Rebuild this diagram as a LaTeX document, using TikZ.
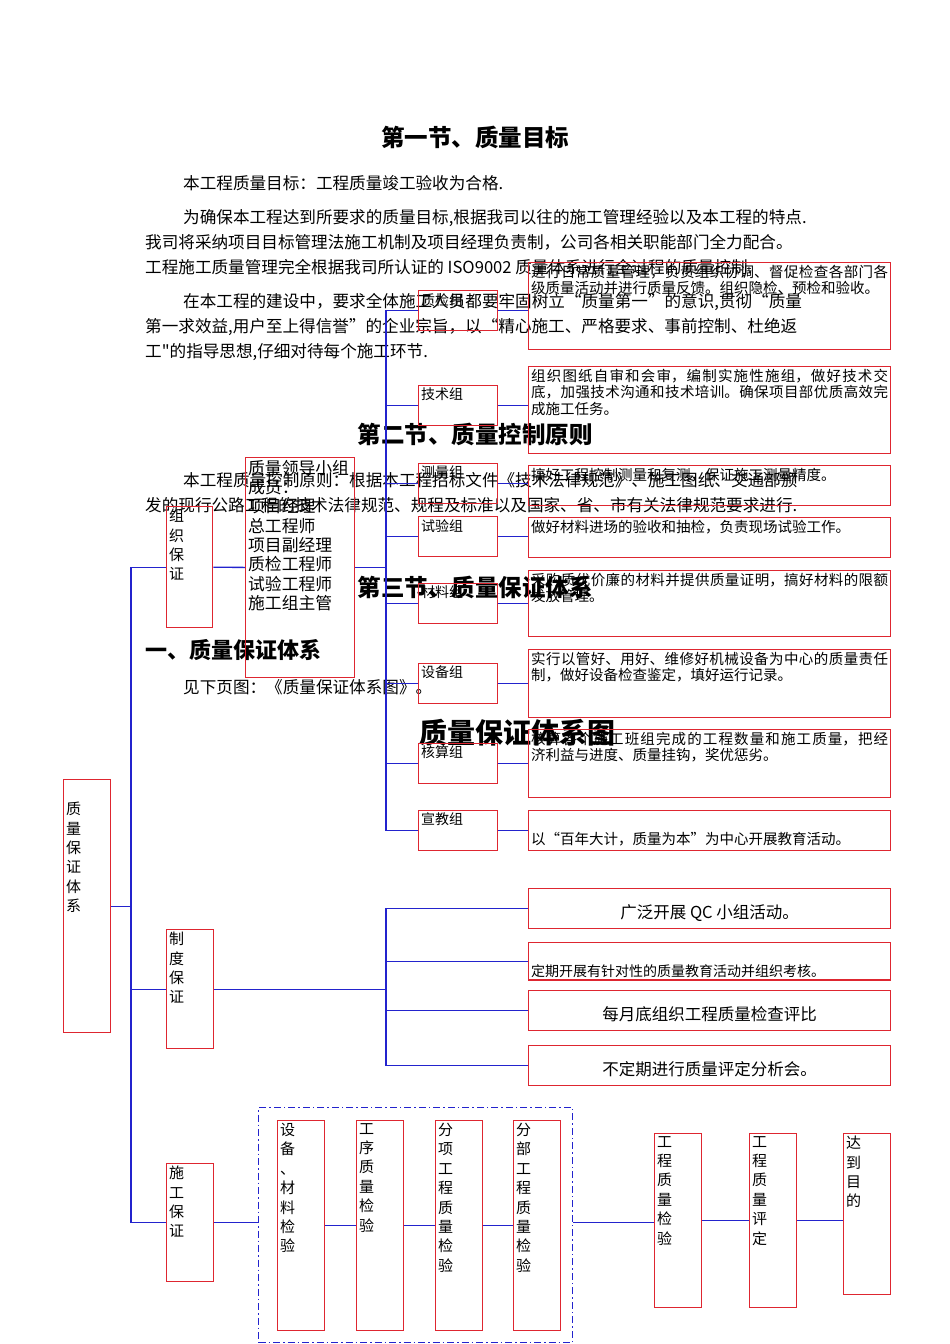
\documentclass[tikz,border=0pt]{standalone}
\usepackage{fontspec}
\setmainfont{Noto Sans CJK SC}
\newfontfamily\plainfont{Noto Sans CJK SC}
\usetikzlibrary{positioning}
\XeTeXlinebreaklocale "zh"
\XeTeXlinebreakskip=0pt plus 1pt
\definecolor{qredline}{RGB}{222,38,48}
\definecolor{qblueline}{RGB}{35,35,205}
\newcommand{\cell}[4]{\parbox[c][#2pt][#3]{#1pt}{#4}}

\begin{document}
\begin{tikzpicture}[x=1pt, y=-1pt,
    box/.style={draw=qredline, line width=1.3pt, inner sep=2.5pt, anchor=north west},
    vbox/.style={box, font=\fontsize{15}{19.4}\selectfont},
    grp/.style={box, font=\fontsize{14}{16}\selectfont},
    desc/.style={box, font=\fontsize{14.5}{16.5}\selectfont},
    rule/.style={box, font=\fontsize{16.5}{19}\selectfont},
    link/.style={draw=qblueline, line width=1.3pt},
    body/.style={anchor=base west, inner sep=0pt, font=\fontsize{16.6}{20}\selectfont},
    head/.style={inner sep=0pt, font=\bfseries\fontsize{23.5}{26}\selectfont}
]
\useasboundingbox (0,0) rectangle (950,1344);

\node[head] (h1) at (475,137) {第一节、质量目标};
\node[body] (t1) at (183,189) {本工程质量目标：工程质量竣工验收为合格.};
\node[body] (t2) at (183,223) {为确保本工程达到所要求的质量目标,根据我司以往的施工管理经验以及本工程的特点.};
\node[body] (t3) at (145,248) {我司将采纳项目目标管理法施工机制及项目经理负责制，公司各相关职能部门全力配合。};
\node[body] (t4) at (145,273) {工程施工质量管理完全根据我司所认证的 ISO9002 质量体系进行全过程的质量控制.};
\node[body] (t5) at (183,307) {在本工程的建设中，要求全体施工人员都要牢固树立“质量第一”的意识,贯彻“质量};
\node[body] (t6) at (145,332) {第一求效益,用户至上得信誉”的企业宗旨，以“精心施工、严格要求、事前控制、杜绝返};
\node[body] (t7) at (145,357) {\plainfont 工"的指导思想,仔细对待每个施工环节.};
\node[head] (h2) at (475,434) {第二节、质量控制原则};
\node[body] (t8) at (183,486) {本工程质量控制原则：根据本工程招标文件《技术法律规范》、施工图纸、交通部颁};
\node[body] (t9) at (145,511) {发的现行公路工程的技术法律规范、规程及标准以及国家、省、市有关法律规范要求进行.};
\node[head] (h3) at (475,587) {第三节、质量保证体系};
\node[head, anchor=west, font=\bfseries\fontsize{22}{24}\selectfont] (h4) at (145,650) {一、质量保证体系};
\node[body] (t10) at (183,693) {见下页图：《质量保证体系图》。};
\node[head, font=\bfseries\fontsize{28}{30}\selectfont] (h5) at (517,733) {质量保证体系图};

\node[vbox] (sys) at (63,779) {\cell{42}{248}{t}{\vspace*{20pt}质\\量\\保\\证\\体\\系}};
\node[vbox] (zz) at (166,506) {\cell{41}{116}{t}{组\\织\\保\\证}};
\node[box, font=\fontsize{16.8}{19.3}\selectfont] (lead) at (245,457) {\cell{104}{215}{t}{质量领导小组\\成员：\\项目经理\\总工程师\\项目副经理\\质检工程师\\试验工程师\\施工组主管}};

\foreach \n/\y/\t in {zj/290/质检组, js/385/技术组, cl/463/测量组, sy/516/试验组,
    cg/583/材料组, sb/663/设备组, hs/743/核算组, xj/810/宣教组}
  \node[grp] (\n) at (418,\y) {\cell{74}{35}{t}{\t}};

\node[desc] (d1) at (528,262) {\cell{357}{82}{t}{进行日常质量管理，负责组织协调、督促检查各部门各级质量活动并进行质量反馈。组织隐检、预检和验收。}};
\node[desc] (d2) at (528,366) {\cell{357}{82}{t}{组织图纸自审和会审，编制实施性施组，做好技术交底，加强技术沟通和技术培训。确保项目部优质高效完成施工任务。}};
\node[desc] (d3) at (528,465) {\cell{357}{35}{t}{搞好工程控制测量和复测，保证施工测量精度。}};
\node[desc] (d4) at (528,517) {\cell{357}{35}{t}{做好材料进场的验收和抽检，负责现场试验工作。}};
\node[desc] (d5) at (528,570) {\cell{357}{61}{t}{采购质优价廉的材料并提供质量证明，搞好材料的限额发放管理。}};
\node[desc] (d6) at (528,649) {\cell{357}{63}{t}{实行以管好、用好、维修好机械设备为中心的质量责任制，做好设备检查鉴定，填好运行记录。}};
\node[desc] (d7) at (528,729) {\cell{357}{63}{t}{核算各个施工班组完成的工程数量和施工质量，把经\linebreak 济利益与进度、质量挂钩，奖优惩劣。}};
\node[desc] (d8) at (528,810) {\cell{357}{35}{c}{\vspace*{16pt}以“百年大计，质量为本”为中心开展教育活动。}};

\node[vbox] (zd) at (166,929) {\cell{42}{114}{t}{制\\度\\保\\证}};
\node[rule] (r1) at (528,888) {\cell{357}{35}{c}{\centering\vspace*{8pt}广泛开展 QC 小组活动。}};
\node[rule] (r2) at (528,942) {\cell{357}{31}{b}{\fontsize{14}{16}\selectfont 定期开展有针对性的质量教育活动并组织考核。}};
\node[rule] (r3) at (528,990) {\cell{357}{35}{c}{\centering\vspace*{8pt}每月底组织工程质量检查评比}};
\node[rule] (r4) at (528,1045) {\cell{357}{35}{c}{\centering\vspace*{8pt}不定期进行质量评定分析会。}};

\node[vbox] (sg) at (166,1163) {\cell{42}{113}{t}{施\\工\\保\\证}};
\node[draw=qblueline, line width=1.1pt, dash pattern=on 7pt off 3pt on 1.5pt off 3pt,
  minimum width=314pt, minimum height=235pt, inner sep=0pt, anchor=north west] (chk) at (258,1107) {};
\node[vbox] (c1) at (277,1120) {\cell{42}{205}{t}{设\\备\\、\\材\\料\\检\\验}};
\node[vbox] (c2) at (356,1120) {\cell{42}{205}{t}{工\\序\\质\\量\\检\\验}};
\node[vbox] (c3) at (435,1120) {\cell{42}{205}{t}{分\\项\\工\\程\\质\\量\\检\\验}};
\node[vbox] (c4) at (513,1120) {\cell{42}{205}{t}{分\\部\\工\\程\\质\\量\\检\\验}};
\node[vbox] (e1) at (654,1133) {\cell{42}{169}{t}{工\\程\\质\\量\\检\\验}};
\node[vbox] (e2) at (749,1133) {\cell{42}{169}{t}{工\\程\\质\\量\\评\\定}};
\node[vbox] (e3) at (843,1133) {\cell{42}{156}{t}{达\\到\\目\\的}};

\coordinate (trunk) at (131,0);
\coordinate (spine) at (386,0);
\draw[link] (sys.east) -- (sys.east -| trunk);
\draw[link] (zz.west) -- (zz.west -| trunk) |- (sg.west);
\draw[link] (zd.west) -- (zd.west -| trunk);
\draw[link] (zz) -- (lead);
\draw[link] (lead.east) -- (lead.east -| spine);
\draw[link] (zj.west) -- (zj.west -| spine) |- (xj.west);
\foreach \g in {js,cl,sy,cg,sb,hs}
  \draw[link] (\g.west) -- (\g.west -| spine);
\foreach \g/\d in {zj/d1,js/d2,cl/d3,sy/d4,cg/d5,sb/d6,hs/d7,xj/d8}
  \draw[link] (\g.east) -- (\g.east -| \d.west);
\draw[link] (zd.east) -- (zd.east -| spine);
\draw[link] (r1.west) -- (r1.west -| spine) |- (r4.west);
\draw[link] (r2.west) -- (r2.west -| spine);
\draw[link] (r3.west) -- (r3.west -| spine);
\draw[link] (sg.east) -- (sg.east -| chk.west);
\draw[link] (c1) -- (c2);
\draw[link] (c2) -- (c3);
\draw[link] (c3) -- (c4);
\draw[link] (chk.east |- sg.east) -- (sg.east -| e1.west);
\draw[link] (e1) -- (e2);
\draw[link] (e2.east) -- (e2.east -| e3.west);

\end{tikzpicture}
\end{document}
